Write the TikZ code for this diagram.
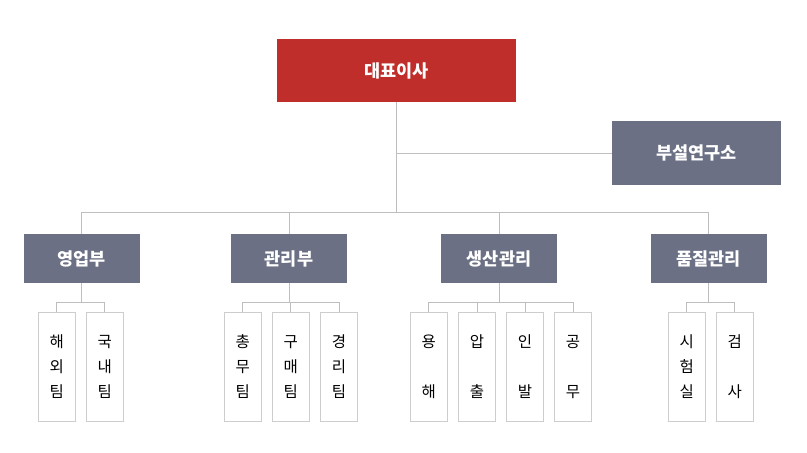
\documentclass[tikz,border=0pt]{standalone}
\usepackage{fontspec}
\newfontfamily\kr{Noto Sans CJK KR}
\definecolor{ceored}{RGB}{192,46,43}
\definecolor{deptgray}{RGB}{107,112,133}
\definecolor{lineg}{RGB}{190,190,190}
\definecolor{leafline}{RGB}{205,205,205}
\begin{document}
\begin{tikzpicture}[x=1pt,y=-1pt,
  ceo/.style={fill=ceored, minimum width=239pt, minimum height=63pt, inner sep=0pt, text=white, font=\kr\bfseries\fontsize{17.5}{19}\selectfont},
  dept/.style={fill=deptgray, minimum width=116pt, minimum height=49pt, inner sep=0pt, text=white, font=\kr\bfseries\fontsize{17.5}{19}\selectfont},
  labbox/.style={fill=deptgray, minimum width=169pt, minimum height=64pt, inner sep=0pt, text=white, font=\kr\bfseries\fontsize{17.5}{19}\selectfont},
  leaf/.style={draw=leafline, line width=0.9pt, minimum width=37pt, minimum height=109pt, inner sep=0pt, align=center, font=\kr\fontsize{15.5}{25}\selectfont},
  conn/.style={draw=lineg, line width=1pt}]
\useasboundingbox (0,0) rectangle (807,453);
% top
\node[ceo] (ceo) at (396.5,70.5) {대표이사};
\node[labbox] (lab) at (696.5,153) {부설연구소};
% departments
\node[dept] (d1) at (81.5,258.5) {영업부};
\node[dept] (d2) at (289,258.5) {관리부};
\node[dept] (d3) at (499,258.5) {생산관리};
\node[dept] (d4) at (708.5,258.5) {품질관리};
% leaves
\node[leaf] (l11) at (56.8,367) {해\\외\\팀};
\node[leaf] (l12) at (104.8,367) {국\\내\\팀};
\node[leaf] (l21) at (242.8,367) {총\\무\\팀};
\node[leaf] (l22) at (290.8,367) {구\\매\\팀};
\node[leaf] (l23) at (339,367) {경\\리\\팀};
\node[leaf] (l31) at (428.8,367) {용\\\mbox{}\\해};
\node[leaf] (l32) at (477,367) {압\\\mbox{}\\출};
\node[leaf] (l33) at (525,367) {인\\\mbox{}\\발};
\node[leaf] (l34) at (573,367) {공\\\mbox{}\\무};
\node[leaf] (l41) at (686.8,367) {시\\험\\실};
\node[leaf] (l42) at (734.8,367) {검\\\mbox{}\\사};
% junction coordinates
\coordinate (bus) at (396.5,212.5);
\coordinate (j1) at (81.5,302);
\coordinate (j2) at (289,302);
\coordinate (j3) at (499,302);
\coordinate (j4) at (708.5,302);
% connectors top
\draw[conn] (ceo.south) -- (bus);
\draw[conn] (ceo.south |- lab.west) -- (lab.west);
\draw[conn] (d1.north) -- (d1.north |- bus) -- (d4.north |- bus) -- (d4.north);
\draw[conn] (d2.north) -- (d2.north |- bus);
\draw[conn] (d3.north) -- (d3.north |- bus);
% connectors to leaves
\draw[conn] (d1.south) -- (j1);
\draw[conn] (l11.north) -- (l11.north |- j1) -- (l12.north |- j1) -- (l12.north);
\draw[conn] (d2.south) -- (j2);
\draw[conn] (l21.north) -- (l21.north |- j2) -- (l23.north |- j2) -- (l23.north);
\draw[conn] (l22.north) -- (l22.north |- j2);
\draw[conn] (d3.south) -- (j3);
\draw[conn] (l31.north) -- (l31.north |- j3) -- (l34.north |- j3) -- (l34.north);
\draw[conn] (l32.north) -- (l32.north |- j3);
\draw[conn] (l33.north) -- (l33.north |- j3);
\draw[conn] (d4.south) -- (j4);
\draw[conn] (l41.north) -- (l41.north |- j4) -- (l42.north |- j4) -- (l42.north);
\end{tikzpicture}
\end{document}
